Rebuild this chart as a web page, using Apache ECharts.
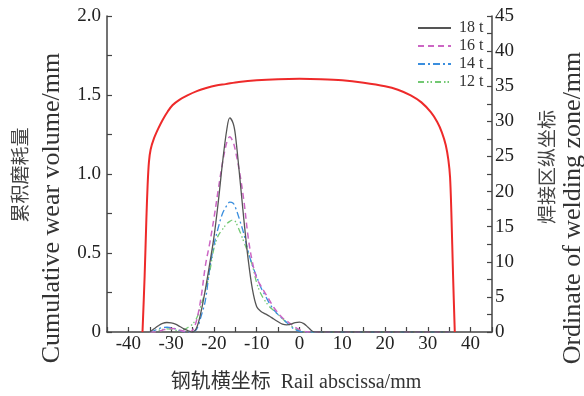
<!DOCTYPE html>
<html>
<head>
<meta charset="utf-8">
<script src="https://cdn.jsdelivr.net/npm/echarts@6/dist/echarts.min.js"></script>
<style>
  html, body { margin: 0; padding: 0; background: #fff; }
  #chart { width: 584px; height: 396px; }
</style>
</head>
<body>
<div id="chart"></div>
<script>
// Rail abscissa sample positions (mm) shared by the wear curves
var railX = [-35, -34, -33, -32, -31, -30, -29, -28, -27, -26, -25, -24, -23, -22, -21, -20, -19, -18, -17, -16.3, -15.5, -15, -14, -13, -12, -11, -10, -9, -8, -7, -6, -5, -4, -3, -2, -1, 0, 1, 2, 3, 4, 5, 10, 15, 20, 25, 30, 35];

// Cumulative wear volume (mm) for each axle load
var wear18t = [0, 0.02, 0.04, 0.055, 0.06, 0.058, 0.05, 0.035, 0.02, 0.008, 0, 0.03, 0.13, 0.27, 0.43, 0.6, 0.82, 1.07, 1.28, 1.355, 1.32, 1.25, 0.99, 0.71, 0.46, 0.27, 0.16, 0.13, 0.115, 0.1, 0.082, 0.065, 0.05, 0.045, 0.05, 0.06, 0.062, 0.053, 0.03, 0.005, 0, 0, 0, 0, 0, 0, 0, 0];
var wear16t = [0, 0, 0.005, 0.012, 0.02, 0.022, 0.02, 0.012, 0.005, 0, 0.01, 0.08, 0.22, 0.42, 0.56, 0.72, 0.9, 1.07, 1.2, 1.235, 1.2, 1.15, 1.01, 0.83, 0.6, 0.44, 0.34, 0.29, 0.245, 0.2, 0.155, 0.12, 0.09, 0.07, 0.05, 0.03, 0.015, 0.005, 0, 0, 0, 0, 0, 0, 0, 0, 0, 0];
var wear14t = [0, 0.008, 0.02, 0.028, 0.03, 0.028, 0.02, 0.01, 0.003, 0, 0, 0.02, 0.1, 0.2, 0.4, 0.55, 0.66, 0.75, 0.8, 0.822, 0.815, 0.79, 0.71, 0.62, 0.51, 0.42, 0.35, 0.28, 0.23, 0.18, 0.14, 0.11, 0.085, 0.06, 0.035, 0.015, 0.005, 0, 0, 0, 0, 0, 0, 0, 0, 0, 0, 0];
var wear12t = [0, 0.003, 0.01, 0.016, 0.02, 0.018, 0.012, 0.008, 0.015, 0.03, 0.05, 0.09, 0.17, 0.26, 0.38, 0.53, 0.61, 0.65, 0.685, 0.70, 0.71, 0.70, 0.64, 0.57, 0.5, 0.42, 0.31, 0.24, 0.195, 0.16, 0.135, 0.11, 0.085, 0.06, 0.04, 0.02, 0.01, 0, 0, 0, 0, 0, 0, 0, 0, 0, 0, 0];

// Welding zone profile (rail head outline): abscissa and ordinate in mm
var profileX = [-36.7, -36.2, -35.8, -35.5, -35.2, -34.8, -34.0, -33.0, -32.0, -30.8, -29.7, -28.0, -26.2, -24.0, -22.0, -19.5, -17.3, -14.2, -10, -5, 0, 5, 10, 15, 20, 23, 26, 28.5, 30.7, 32.2, 33.3, 34.2, 34.8, 35.2, 35.5, 35.9, 36.3];
var profileY = [0, 8, 16, 21, 24.2, 26.0, 27.6, 29.0, 30.2, 31.4, 32.3, 33.1, 33.7, 34.3, 34.7, 35.1, 35.3, 35.6, 35.85, 36.0, 36.05, 36.0, 35.85, 35.5, 35.0, 34.5, 33.7, 32.7, 31.3, 29.9, 28.4, 26.6, 24.5, 22.0, 17, 8, 0];

var seriesNames = ['18 t', '16 t', '14 t', '12 t'];

function pairs(xs, ys) {
  return xs.map(function (x, i) { return [x, ys[i]]; });
}

var serif = '"Liberation Serif", "Times New Roman", "Noto Sans CJK SC", serif';
var axisColor = '#444';

var chart = echarts.init(document.getElementById('chart'), null, { renderer: 'canvas' });

chart.setOption({
  animation: false,
  backgroundColor: '#fff',
  grid: { left: 107, right: 92, top: 16, bottom: 64, containLabel: false },
  legend: {
    orient: 'vertical',
    left: 417,
    top: 19,
    padding: 0,
    itemWidth: 33,
    itemHeight: 14,
    itemGap: 0,
    data: seriesNames,
    itemStyle: { opacity: 0 },
    textStyle: { fontFamily: serif, fontSize: 16, lineHeight: 18, color: '#333', padding: [0, 0, 0, 3] }
  },
  xAxis: {
    type: 'value',
    min: -45,
    max: 45,
    interval: 5,
    axisLine: { show: true, onZero: false, lineStyle: { color: axisColor, width: 1.5 } },
    axisTick: { show: true, inside: true, length: 5, lineStyle: { color: axisColor, width: 1.2 } },
    splitLine: { show: false },
    axisLabel: {
      margin: 3,
      fontFamily: serif,
      fontSize: 19,
      color: '#222',
      formatter: function (v) { return (v % 10 === 0 && Math.abs(v) < 45) ? String(v) : ''; }
    }
  },
  yAxis: [
    {
      type: 'value',
      min: 0,
      max: 2,
      interval: 0.25,
      position: 'left',
      axisLine: { show: true, onZero: false, lineStyle: { color: axisColor, width: 1.5 } },
      axisTick: { show: true, inside: true, length: 5, lineStyle: { color: axisColor, width: 1.2 } },
      splitLine: { show: false },
      axisLabel: {
        margin: 6,
        fontFamily: serif,
        fontSize: 19,
        color: '#222',
        formatter: function (v) {
          if (Math.abs(v * 2 - Math.round(v * 2)) > 1e-6) return '';
          return v === 0 ? '0' : v.toFixed(1);
        }
      }
    },
    {
      type: 'value',
      min: 0,
      max: 45,
      interval: 2.5,
      position: 'right',
      axisLine: { show: true, onZero: false, lineStyle: { color: axisColor, width: 1.5 } },
      axisTick: { show: true, inside: true, length: 5, lineStyle: { color: axisColor, width: 1.2 } },
      splitLine: { show: false },
      axisLabel: {
        margin: 3,
        fontFamily: serif,
        fontSize: 19,
        color: '#222',
        formatter: function (v) { return (v % 5 === 0) ? String(v) : ''; }
      }
    }
  ],
  graphic: [
    {
      type: 'text', x: 20, y: 175, rotation: Math.PI / 2,
      style: { text: '累积磨耗量', font: '19px "Noto Sans CJK SC"', fill: '#444', align: 'center', verticalAlign: 'middle' }
    },
    {
      type: 'text', x: 52, y: 208, rotation: Math.PI / 2,
      style: { text: 'Cumulative wear volume/mm', font: '26px "Liberation Serif"', fill: '#333', align: 'center', verticalAlign: 'middle' }
    },
    {
      type: 'text', x: 547, y: 167, rotation: Math.PI / 2,
      style: { text: '焊接区纵坐标', font: '19px "Noto Sans CJK SC"', fill: '#444', align: 'center', verticalAlign: 'middle' }
    },
    {
      type: 'text', x: 573, y: 208, rotation: Math.PI / 2,
      style: { text: 'Ordinate of welding zone/mm', font: '26px "Liberation Serif"', fill: '#333', align: 'center', verticalAlign: 'middle' }
    },
    {
      type: 'text', x: 296, y: 383,
      style: { text: '钢轨横坐标  Rail abscissa/mm', font: '20px "Liberation Serif", "Noto Sans CJK SC"', fill: '#333', align: 'center', verticalAlign: 'middle' }
    }
  ],
  series: [
    {
      name: 'profile', type: 'line', yAxisIndex: 1, smooth: 0.3, symbol: 'none',
      lineStyle: { color: '#ee2a2a', width: 2 },
      data: pairs(profileX, profileY), z: 1
    },
    {
      name: seriesNames[0], type: 'line', smooth: 0.35, symbol: 'none', color: '#555555',
      lineStyle: { color: '#555555', width: 1.3, type: 'solid' },
      data: pairs(railX, wear18t), z: 5
    },
    {
      name: seriesNames[1], type: 'line', smooth: 0.35, symbol: 'none', color: '#cc66c4',
      lineStyle: { color: '#cc66c4', width: 1.5, type: [6, 4] },
      data: pairs(railX, wear16t), z: 4
    },
    {
      name: seriesNames[2], type: 'line', smooth: 0.35, symbol: 'none', color: '#3a8ede',
      lineStyle: { color: '#3a8ede', width: 1.3, type: [7, 3, 2, 3] },
      data: pairs(railX, wear14t), z: 3
    },
    {
      name: seriesNames[3], type: 'line', smooth: 0.35, symbol: 'none', color: '#72c872',
      lineStyle: { color: '#72c872', width: 1.3, type: [6, 3, 1.5, 2, 1.5, 3] },
      data: pairs(railX, wear12t), z: 2
    }
  ]
});
</script>
</body>
</html>
